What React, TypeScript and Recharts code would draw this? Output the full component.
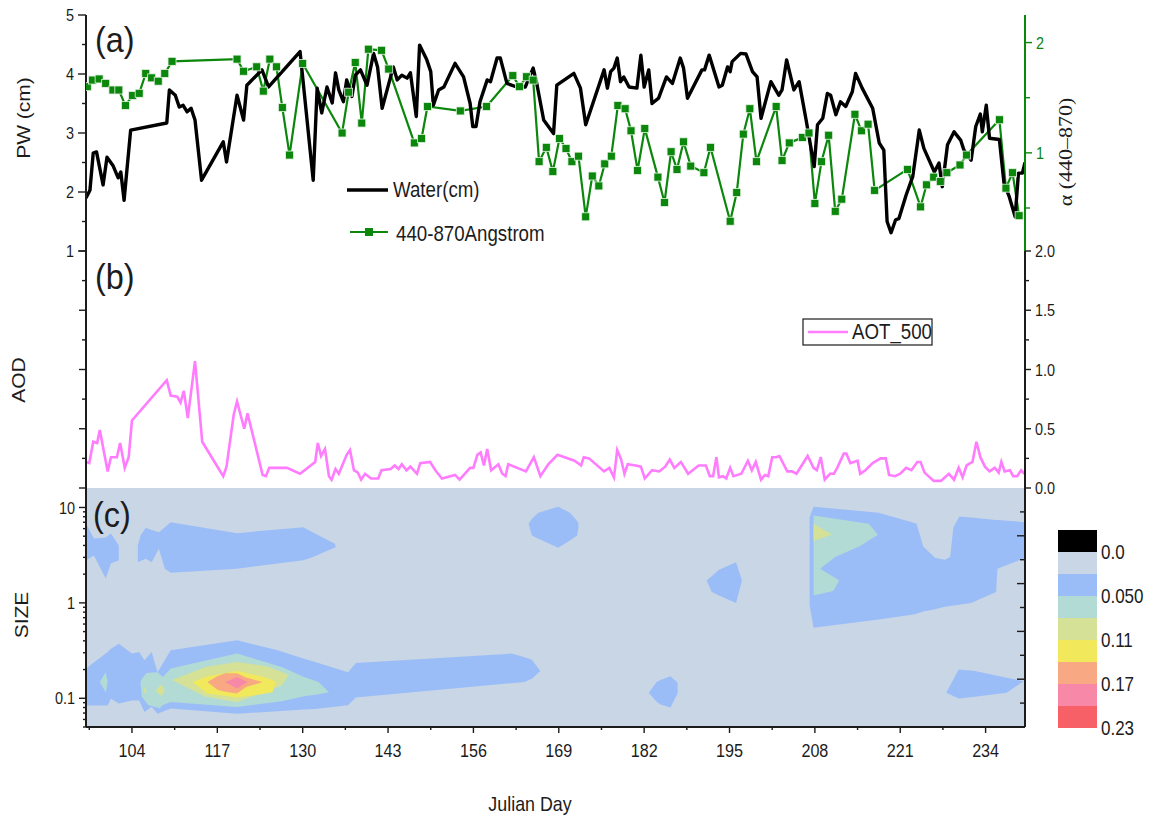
import React from 'react'
import { ComposedChart, Line, Area, XAxis, YAxis, CartesianGrid } from 'recharts'

const FONT = '"Liberation Sans", Arial, Helvetica, sans-serif'
const SERIF = '"Liberation Serif", "Times New Roman", serif'
const SX = 0.85
const INK = '#1c1c1c'
const GREEN = '#0b870b'
const PINK = '#ff7cff'

// axes
const dayDomain: [number, number] = [97, 240]
const dayMajor = [104, 117, 130, 143, 156, 169, 182, 195, 208, 221, 234]
const dayMinor = [97.5, 110.5, 123.5, 136.5, 149.5, 162.5, 175.5, 188.5, 201.5, 214.5, 227.5]
const dayTicks = [...dayMinor, ...dayMajor].sort((a, b) => a - b)
const pwMajor = [1, 2, 3, 4, 5]
const pwTicks = [1, 1.5, 2, 2.5, 3, 3.5, 4, 4.5, 5]
const alphaMajor = [1, 2]
const alphaTicks = [0.5, 1, 1.5, 2]
const aodMajor = [0, 0.5, 1, 1.5, 2]
const aodTicks = [0, 0.25, 0.5, 0.75, 1, 1.25, 1.5, 1.75, 2]
const sizeMajor = [0.1, 1, 10]
const sizeTicks = [0.05, 0.06, 0.07, 0.08, 0.09, 0.1, 0.2, 0.3, 0.4, 0.5, 0.6, 0.7, 0.8, 0.9, 1, 2, 3, 4, 5, 6, 7, 8, 9, 10]
const rightMajor = [2, 4, 6, 8]
const rightTicks = [1, 2, 3, 4, 5, 6, 7, 8, 9]

// (a) precipitable water, cm
const water: [number, number][] = [
  [97.0, 1.9], [97.6, 2.03], [98.1, 2.66], [98.6, 2.68], [99.6, 2.12], [100.2, 2.59], [101.1, 2.45], [101.9, 2.24],
  [102.3, 2.34], [102.8, 1.86], [103.8, 3.05], [109.3, 3.17], [109.7, 3.73], [110.6, 3.64], [111.2, 3.44], [111.8, 3.47],
  [112.4, 3.36], [113.0, 3.42], [113.6, 3.22], [114.6, 2.2], [117.9, 2.85], [118.4, 2.51], [120.0, 3.64], [121.0, 3.22],
  [121.5, 3.81], [123.8, 4.07], [124.8, 3.78], [129.6, 4.38], [131.6, 2.2], [132.2, 3.76], [132.9, 3.34], [133.7, 3.78],
  [134.5, 3.51], [135.0, 4.02], [135.5, 3.73], [136.2, 3.53], [136.7, 3.9], [137.5, 3.62], [138.0, 3.98], [138.8, 4.07],
  [139.8, 3.81], [140.8, 4.35], [141.4, 4.12], [142.1, 3.42], [143.8, 4.12], [144.4, 3.9], [145.1, 3.98], [145.9, 3.93],
  [146.4, 4.02], [147.3, 3.28], [147.8, 4.49], [148.9, 4.24], [149.5, 4.04], [149.9, 3.47], [150.7, 3.73], [151.5, 3.78],
  [153.2, 4.18], [154.5, 3.95], [155.5, 3.5], [155.9, 3.11], [156.4, 3.11], [157.0, 3.53], [158.1, 3.9], [158.6, 3.87],
  [159.6, 4.27], [160.1, 4.27], [161.1, 3.84], [162.6, 3.78], [163.9, 3.78], [165.1, 4.1], [165.7, 3.81], [166.7, 3.22],
  [168.2, 2.99], [168.7, 3.81], [171.3, 4.01], [172.3, 3.76], [173.1, 3.14], [175.9, 4.07], [176.4, 3.76], [176.9, 4.04],
  [177.4, 4.1], [177.9, 4.27], [178.4, 3.87], [178.9, 3.95], [179.7, 3.78], [180.9, 3.76], [181.5, 4.32], [182.0, 3.78],
  [182.7, 4.07], [183.2, 3.5], [184.2, 3.59], [185.4, 3.95], [186.3, 3.84], [187.5, 4.27], [188.0, 4.1], [188.6, 3.59],
  [190.8, 4.07], [191.2, 4.07], [191.9, 4.32], [193.4, 3.78], [193.9, 3.81], [194.7, 4.12], [195.1, 4.04], [195.4, 4.21],
  [196.7, 4.35], [197.5, 4.34], [198.5, 4.04], [199.2, 3.95], [199.8, 3.25], [201.3, 3.87], [202.5, 3.64], [203.0, 3.73],
  [203.7, 4.24], [204.8, 3.73], [205.6, 3.87], [206.7, 3.2], [207.9, 2.43], [208.4, 3.14], [209.2, 3.25], [209.9, 3.67],
  [210.4, 3.64], [211.2, 3.31], [211.9, 3.53], [212.7, 3.45], [213.7, 3.7], [214.2, 4.01], [215.2, 3.76], [216.8, 3.42],
  [217.8, 2.83], [218.5, 2.71], [219.0, 1.5], [219.6, 1.31], [220.3, 1.53], [220.8, 1.55], [221.9, 1.95], [222.9, 2.26],
  [223.9, 3.05], [224.6, 2.74], [226.2, 2.34], [226.9, 2.49], [227.4, 2.09], [228.2, 2.8], [229.2, 3.02], [230.2, 2.88],
  [230.7, 2.71], [231.8, 2.54], [232.5, 3.11], [233.2, 3.32], [233.5, 3.02], [234.1, 3.47], [234.6, 2.91], [236.1, 2.89],
  [236.8, 2.15], [237.6, 1.92], [238.5, 1.58], [239.0, 2.32], [239.6, 2.32], [240.0, 2.5],
]

// (a) Angstrom exponent 440-870
const alpha: [number, number][] = [
  [97.2, 1.6], [98.0, 1.66], [99.0, 1.67], [100.0, 1.63], [101.1, 1.57], [102.0, 1.57], [103.0, 1.43], [104.1, 1.52],
  [105.1, 1.54], [106.1, 1.72], [107.0, 1.68], [108.0, 1.65], [109.0, 1.72], [110.1, 1.83], [120.0, 1.85], [121.0, 1.74],
  [123.0, 1.78], [124.0, 1.56], [125.0, 1.85], [126.0, 1.78], [126.9, 1.41], [128.0, 0.98], [130.0, 1.81], [136.0, 1.18],
  [137.0, 1.55], [138.0, 1.82], [139.0, 1.27], [140.0, 1.94], [142.0, 1.93], [143.1, 1.76], [147.0, 1.09], [148.1, 1.13],
  [149.0, 1.42], [154.0, 1.38], [158.0, 1.42], [162.0, 1.7], [163.0, 1.6], [164.1, 1.69], [165.1, 1.66], [166.0, 0.92],
  [167.1, 1.05], [168.1, 0.83], [169.1, 1.13], [170.1, 1.04], [171.0, 0.92], [172.0, 0.97], [173.1, 0.42], [174.1, 0.79],
  [175.1, 0.7], [176.0, 0.9], [177.0, 0.97], [178.0, 1.43], [179.1, 1.4], [180.0, 1.2], [181.0, 0.84], [182.1, 1.22],
  [184.1, 0.78], [185.1, 0.55], [186.1, 1.01], [187.0, 0.85], [188.0, 1.1], [189.1, 0.88], [191.1, 0.82], [192.1, 1.05],
  [195.1, 0.38], [196.1, 0.64], [197.1, 1.17], [198.1, 1.4], [199.1, 0.92], [202.1, 1.42], [203.0, 0.93], [204.1, 1.09],
  [206.1, 1.14], [207.1, 1.18], [208.0, 0.54], [209.0, 0.92], [210.1, 1.16], [211.1, 0.47], [212.1, 0.58], [214.1, 1.35],
  [215.1, 1.2], [216.1, 1.26], [217.1, 0.66], [222.1, 0.85], [224.1, 0.51], [225.0, 0.71], [226.1, 0.78], [227.1, 0.74],
  [228.1, 0.82], [230.1, 0.89], [231.1, 0.98], [236.1, 1.3], [237.1, 0.68], [238.1, 0.82], [239.1, 0.43],
]

// (b) AOT at 500 nm
const aot500: [number, number][] = [
  [97.0, 0.22], [97.5, 0.21], [98.1, 0.39], [98.7, 0.38], [99.1, 0.49], [100.3, 0.14], [100.8, 0.26], [101.7, 0.26],
  [102.2, 0.38], [102.9, 0.17], [103.5, 0.26], [104.0, 0.57], [109.3, 0.91], [109.9, 0.78], [110.9, 0.77], [111.4, 0.72],
  [111.9, 0.82], [112.5, 0.59], [113.6, 1.07], [114.7, 0.39], [117.9, 0.1], [118.4, 0.18], [119.5, 0.62], [120.0, 0.73],
  [121.1, 0.5], [121.6, 0.63], [123.9, 0.11], [124.4, 0.1], [124.9, 0.17], [127.6, 0.17], [129.6, 0.12], [131.9, 0.22],
  [132.3, 0.38], [132.8, 0.27], [133.4, 0.33], [134.0, 0.1], [134.4, 0.07], [135.0, 0.16], [135.5, 0.12], [136.7, 0.28],
  [137.2, 0.32], [137.8, 0.15], [138.4, 0.13], [138.9, 0.07], [139.5, 0.12], [140.4, 0.08], [141.5, 0.08], [142.0, 0.15],
  [143.4, 0.16], [144.0, 0.19], [144.6, 0.16], [145.1, 0.2], [145.8, 0.15], [146.4, 0.18], [147.4, 0.12], [147.9, 0.21],
  [149.4, 0.22], [150.2, 0.15], [151.2, 0.08], [153.2, 0.11], [153.9, 0.07], [155.5, 0.17], [156.0, 0.17], [156.6, 0.28],
  [157.1, 0.3], [157.6, 0.19], [158.1, 0.33], [158.7, 0.15], [159.8, 0.2], [160.4, 0.12], [160.9, 0.1], [161.3, 0.2],
  [164.0, 0.14], [165.2, 0.26], [166.2, 0.1], [167.4, 0.2], [168.8, 0.28], [171.4, 0.23], [172.4, 0.19], [172.8, 0.26],
  [173.6, 0.25], [175.9, 0.14], [176.7, 0.17], [177.4, 0.09], [177.9, 0.32], [178.5, 0.24], [179.0, 0.12], [179.5, 0.2],
  [180.7, 0.19], [181.5, 0.18], [182.1, 0.08], [183.2, 0.15], [184.3, 0.14], [185.2, 0.18], [185.9, 0.24], [186.6, 0.17],
  [187.6, 0.22], [188.7, 0.12], [190.3, 0.19], [191.4, 0.19], [192.0, 0.1], [192.5, 0.1], [193.0, 0.26], [193.4, 0.09],
  [194.0, 0.1], [194.5, 0.08], [195.1, 0.17], [195.6, 0.1], [196.8, 0.12], [197.8, 0.23], [198.4, 0.15], [199.0, 0.22],
  [199.8, 0.07], [200.4, 0.11], [200.9, 0.1], [201.5, 0.26], [202.1, 0.26], [202.6, 0.27], [203.8, 0.14], [204.5, 0.14],
  [205.2, 0.12], [206.9, 0.27], [207.8, 0.17], [208.3, 0.15], [208.9, 0.26], [209.5, 0.07], [210.3, 0.12], [210.9, 0.12],
  [211.4, 0.17], [212.4, 0.29], [212.8, 0.29], [213.4, 0.21], [214.5, 0.23], [214.9, 0.12], [215.7, 0.15], [216.8, 0.21],
  [218.0, 0.25], [218.8, 0.25], [219.3, 0.11], [220.2, 0.1], [221.0, 0.12], [221.9, 0.17], [222.7, 0.15], [223.6, 0.22],
  [224.1, 0.22], [224.7, 0.13], [226.1, 0.06], [227.2, 0.06], [228.4, 0.12], [229.2, 0.07], [229.9, 0.17], [230.5, 0.09],
  [231.1, 0.19], [232.0, 0.22], [232.6, 0.39], [233.2, 0.26], [233.9, 0.18], [234.6, 0.14], [235.4, 0.17], [236.0, 0.13],
  [236.4, 0.22], [236.9, 0.14], [237.7, 0.15], [238.2, 0.1], [238.8, 0.1], [239.4, 0.15], [239.9, 0.12],
]

// (c) contour bands: [day, low size, high size]
const blueUpperLeft = [[97, 2.79, 6.8], [98.2, 3.14, 4.73], [100, 1.8, 4.85], [100.8, 2.59, 5.35], [102, 2.79, 4.0]]
const blueUpperBand = [
  [104.9, 2.67, 4.0], [105.3, 2.75, 5.09], [106.1, 2.9, 6.12], [107.0, 2.67, 5.8], [108.1, 3.69, 5.51], [109.0, 2.28, 6.2],
  [109.9, 2.07, 7.02], [120, 2.28, 5.38], [130.1, 2.79, 6.22], [131.3, 2.97, 5.6], [134.9, 3.8, 4.17], [135.0, 3.84, 3.9],
]
const blueDay169 = [[164.4, 6.75, 6.75], [164.9, 5.09, 7.6], [165.9, 4.7, 8.8], [168.9, 3.78, 10.2], [170.7, 4.5, 8.8], [171.8, 5.09, 7.2], [172.0, 6.2, 6.75]]
const blueDay208 = [
  [207.2, 0.95, 7.9], [207.8, 0.55, 10.2], [217.7, 0.67, 8.8], [222.8, 0.75, 7.0], [223.5, 0.77, 6.75], [224.5, 0.81, 3.91],
  [226.3, 0.86, 2.97], [227.8, 0.91, 2.83], [228.6, 0.93, 3.02], [229.1, 0.94, 6.22], [230.0, 0.955, 8.05], [231.8, 0.995, 7.86],
  [235.6, 1.3, 7.4], [235.8, 2.28, 7.4], [240, 2.95, 7.02],
]
const blueDay195 = [[191.5, 1.72, 1.72], [192.3, 1.3, 1.9], [193.4, 1.195, 2.23], [196.0, 0.995, 2.67], [196.9, 1.72, 1.72]]
const blueDay184 = [[182.7, 0.114, 0.114], [183.9, 0.092, 0.148], [184.5, 0.086, 0.155], [186.0, 0.08, 0.17], [187.0, 0.109, 0.148], [187.1, 0.114, 0.145]]
const blueDay233 = [[228.0, 0.114, 0.114], [229.9, 0.0995, 0.2], [232.4, 0.104, 0.193], [237.2, 0.114, 0.164], [239.8, 0.151, 0.151]]
const blueFineBand = [
  [97, 0.084, 0.205], [100.3, 0.084, 0.305], [100.8, 0.099, 0.33], [102, 0.088, 0.374], [104, 0.095, 0.294], [105.1, 0.095, 0.305],
  [105.9, 0.072, 0.25], [107.0, 0.081, 0.305], [107.9, 0.069, 0.188], [109.9, 0.078, 0.318], [120, 0.069, 0.405], [126.2, 0.073, 0.318],
  [130.2, 0.0762, 0.26], [131.9, 0.077, 0.24], [136.9, 0.0845, 0.188], [138.1, 0.102, 0.234], [161.8, 0.144, 0.294],
  [163.8, 0.148, 0.27], [164.9, 0.16, 0.254], [166.2, 0.193, 0.193],
]
const tealFineBand = [
  [105.3, 0.148, 0.148], [105.5, 0.1035, 0.16], [106.2, 0.09, 0.183], [106.5, 0.0845, 0.185], [107.9, 0.08, 0.188], [108.2, 0.078, 0.18],
  [108.7, 0.085, 0.167], [109.9, 0.0914, 0.205], [120, 0.081, 0.294], [126.8, 0.093, 0.213], [130.2, 0.105, 0.167], [132.4, 0.11, 0.148],
  [134.0, 0.116, 0.116],
]
const tealSliver = [[99.1, 0.148, 0.148], [100.0, 0.116, 0.188], [100.3, 0.148, 0.148]]
const tealDay208Upper = [[207.8, 2.28, 8.24], [208.8, 2.28, 8.05], [211.1, 3.02, 7.6], [214.9, 3.94, 6.95], [216.2, 4.5, 6.75], [217.6, 5.18, 5.18]]
const tealDay208Lower = [[207.8, 1.2, 2.28], [208.8, 1.24, 2.28], [210.8, 1.33, 1.88], [211.7, 1.72, 1.72]]
const oliveFineBand = [[110.1, 0.155, 0.155], [115.2, 0.1035, 0.213], [120, 0.0914, 0.24], [124.5, 0.118, 0.216], [126.8, 0.136, 0.19], [127.9, 0.175, 0.175]]
const oliveBitA = [[105.8, 0.12, 0.12], [106.0, 0.11, 0.135], [106.2, 0.12, 0.12]]
const oliveBitB = [[107.6, 0.12, 0.12], [108.5, 0.105, 0.14], [109.0, 0.12, 0.12]]
const oliveDay208 = [[207.8, 4.44, 6.75], [210.6, 5.21, 5.21]]
const yellowFineBand = [[113.2, 0.148, 0.148], [115.5, 0.112, 0.17], [120, 0.102, 0.193], [123.7, 0.11, 0.17], [125.4, 0.116, 0.155], [125.9, 0.148, 0.148]]
const orangeFineBand = [[115.5, 0.148, 0.148], [117.0, 0.123, 0.17], [118.2, 0.117, 0.183], [120, 0.112, 0.183], [121.4, 0.131, 0.165], [123.9, 0.148, 0.148]]
const pinkFineBand = [[118.2, 0.148, 0.148], [120, 0.127, 0.167], [121.6, 0.148, 0.148]]

const levelColors = ['#000000', '#c9d6e6', '#9bbdf7', '#b2dbd5', '#d4e196', '#f1e85c', '#f8a882', '#f888a8', '#f86068']
const levelLabels = ['0.0', '0.050', '0.11', '0.17', '0.23']

const contourLayers = [
  { level: 2, bands: [blueUpperLeft, blueUpperBand, blueDay169, blueDay208, blueDay195, blueDay184, blueDay233, blueFineBand] },
  { level: 3, bands: [tealFineBand, tealSliver, tealDay208Upper, tealDay208Lower] },
  { level: 4, bands: [oliveFineBand, oliveBitA, oliveBitB, oliveDay208] },
  { level: 5, bands: [yellowFineBand] },
  { level: 6, bands: [orangeFineBand] },
  { level: 7, bands: [pinkFineBand] },
]

const toXY = (a: [number, number][]) => a.map(([d, v]) => ({ d, v }))
const toRange = (a: number[][]) => a.map(([d, lo, hi]) => ({ d, r: [lo, hi] }))

type TickOpts = {
  side: 'left' | 'right' | 'top' | 'bottom'
  majors: number[]
  inward?: boolean
  labels?: boolean
  len?: number
  minorLen?: number
  color?: string
  fontSize?: number
  fmt?: (v: number) => string
}

function makeTick(o: TickOpts) {
  return (p: any) => {
    const x = Number(p.x)
    const y = Number(p.y)
    const v = Number(p.payload?.value)
    const major = o.majors.some((m) => Math.abs(m - v) < 1e-6)
    const l = major ? (o.len ?? 7) : (o.minorLen ?? 4)
    const d = o.inward ? -1 : 1
    const out = o.inward ? 0 : l
    const fs = o.fontSize ?? 17
    const color = o.color ?? INK
    let x2 = x, y2 = y, tx = x, ty = y
    let anchor: 'start' | 'middle' | 'end' = 'middle'
    if (o.side === 'left') { x2 = x - d * l; tx = x - out - 4; ty = y + fs * 0.36; anchor = 'end' }
    else if (o.side === 'right') { x2 = x + d * l; tx = x + out + 4; ty = y + fs * 0.36; anchor = 'start' }
    else if (o.side === 'top') { y2 = y - d * l; ty = y - out - 4 }
    else { y2 = y + d * l; ty = y + out + 10 + fs * 0.72 }
    return (
      <g key={`t-${o.side}-${v}`}>
        <line x1={x} y1={y} x2={x2} y2={y2} stroke={color} strokeWidth={1.4} />
        {o.labels !== false && major && (
          <text transform={`translate(${tx},${ty}) scale(${SX},1)`} textAnchor={anchor} fontSize={fs} fontFamily={FONT} fill={color}>
            {o.fmt ? o.fmt(v) : String(v)}
          </text>
        )}
      </g>
    )
  }
}

function SText({ x, y, size, children, anchor = 'start', rotate = 0, family = FONT, fill = INK, sx = SX }: any) {
  return (
    <text
      transform={`translate(${x},${y}) scale(${sx},1)${rotate ? ` rotate(${rotate})` : ''}`}
      textAnchor={anchor}
      fontSize={size}
      fontFamily={family}
      fill={fill}
    >
      {children}
    </text>
  )
}

const frame = { stroke: INK, strokeWidth: 2 }

const squareDot = (p: any) => (
  <rect key={`sq-${p.index}`} x={p.cx - 4} y={p.cy - 4} width={8} height={8} fill={GREEN} stroke="#e8f3e8" strokeWidth={0.8} />
)

export default function App() {
  return (
    <div style={{ position: 'absolute', left: 0, top: 0, width: 1150, height: 821, background: '#fff', overflow: 'hidden' }}>
      {/* (a) */}
      <div style={{ position: 'absolute', left: 0, top: 0 }}>
        <ComposedChart width={1150} height={262} margin={{ top: 15, right: 85, bottom: 11, left: 46 }}>
          <XAxis
            xAxisId="x" type="number" dataKey="d" domain={dayDomain} allowDataOverflow orientation="top" height={0}
            ticks={dayTicks} interval={0} tickSize={0} tickMargin={0} tickLine={false} axisLine={frame}
            tick={makeTick({ side: 'top', majors: dayMajor, inward: true, labels: false, len: 8, minorLen: 5 })}
          />
          <YAxis
            yAxisId="pw" orientation="left" width={40} type="number" domain={[1, 5]} allowDataOverflow
            ticks={pwTicks} interval={0} tickSize={0} tickMargin={0} tickLine={false} axisLine={frame}
            tick={makeTick({ side: 'left', majors: pwMajor, len: 8, minorLen: 4 })}
          />
          <YAxis
            yAxisId="al" orientation="right" width={40} type="number" domain={[0.11, 2.25]} allowDataOverflow
            ticks={alphaTicks} interval={0} tickSize={0} tickMargin={0} tickLine={false}
            axisLine={{ stroke: GREEN, strokeWidth: 2 }}
            tick={makeTick({ side: 'right', majors: alphaMajor, len: 7, minorLen: 5, color: GREEN })}
          />
          <Line
            xAxisId="x" yAxisId="al" data={toXY(alpha)} dataKey="v" type="linear" stroke={GREEN} strokeWidth={2.2}
            dot={squareDot} activeDot={false} isAnimationActive={false}
          />
          <Line
            xAxisId="x" yAxisId="pw" data={toXY(water)} dataKey="v" type="linear" stroke="#000" strokeWidth={3.4}
            strokeLinejoin="round" dot={false} activeDot={false} isAnimationActive={false}
          />
        </ComposedChart>
      </div>

      {/* (b) */}
      <div style={{ position: 'absolute', left: 0, top: 240 }}>
        <ComposedChart width={1150} height={260} margin={{ top: 11, right: 85, bottom: 12, left: 46 }}>
          <XAxis
            xAxisId="x" type="number" dataKey="d" domain={dayDomain} allowDataOverflow orientation="top" height={0}
            ticks={dayTicks} interval={0} tickSize={0} tickMargin={0} tickLine={false} axisLine={frame}
            tick={makeTick({ side: 'top', majors: dayMajor, inward: true, labels: false, len: 9, minorLen: 6 })}
          />
          <YAxis
            yAxisId="l" orientation="left" width={40} type="number" domain={[0, 2]} allowDataOverflow
            ticks={aodTicks} interval={0} tickSize={0} tickMargin={0} tickLine={false} axisLine={frame}
            tick={makeTick({ side: 'left', majors: aodMajor, labels: false, len: 7, minorLen: 4 })}
          />
          <YAxis
            yAxisId="r" orientation="right" width={40} type="number" domain={[0, 2]} allowDataOverflow
            ticks={aodTicks} interval={0} tickSize={0} tickMargin={0} tickLine={false} axisLine={frame}
            tick={makeTick({ side: 'right', majors: aodMajor, len: 6, minorLen: 4, fmt: (v) => v.toFixed(1) })}
          />
          <Line
            xAxisId="x" yAxisId="l" data={toXY(aot500)} dataKey="v" type="linear" stroke={PINK} strokeWidth={2.6}
            dot={false} activeDot={false} isAnimationActive={false}
          />
        </ComposedChart>
      </div>

      {/* (c) */}
      <div style={{ position: 'absolute', left: 0, top: 478 }}>
        <ComposedChart width={1150} height={320} margin={{ top: 10, right: 85, bottom: 31, left: 46 }}>
          <CartesianGrid horizontal={false} vertical={false} fill={levelColors[1]} fillOpacity={1} xAxisId="b" yAxisId="s" />
          <XAxis
            xAxisId="t" type="number" domain={dayDomain} allowDataOverflow orientation="top" height={0}
            ticks={dayTicks} interval={0} tickSize={0} tickMargin={0} tickLine={false} axisLine={{ stroke: INK, strokeWidth: 3 }}
            tick={makeTick({ side: 'top', majors: dayMajor, inward: true, labels: false, len: 7, minorLen: 5 })}
          />
          <XAxis
            xAxisId="b" type="number" dataKey="d" domain={dayDomain} allowDataOverflow orientation="bottom" height={40}
            ticks={dayTicks} interval={0} tickSize={0} tickMargin={0} tickLine={false} axisLine={frame}
            tick={makeTick({ side: 'bottom', majors: dayMajor, len: 6, minorLen: 3, fontSize: 19 })}
          />
          <YAxis
            yAxisId="s" orientation="left" width={40} type="number" scale="log" domain={[0.05, 16]} allowDataOverflow
            ticks={sizeTicks} interval={0} tickSize={0} tickMargin={0} tickLine={false} axisLine={frame}
            tick={makeTick({ side: 'left', majors: sizeMajor, len: 7, minorLen: 3 })}
          />
          <YAxis
            yAxisId="r" orientation="right" width={40} type="number" domain={[0, 10]} allowDataOverflow
            ticks={rightTicks} interval={0} tickSize={0} tickMargin={0} tickLine={false} axisLine={frame}
            tick={makeTick({ side: 'right', majors: rightMajor, inward: true, labels: false, len: 8, minorLen: 5 })}
          />
          {contourLayers.flatMap((layer) =>
            layer.bands.map((band, i) => (
              <Area
                key={`c-${layer.level}-${i}`}
                xAxisId="b" yAxisId="s" data={toRange(band)} dataKey="r" type="linear"
                stroke="none" fill={levelColors[layer.level]} fillOpacity={1}
                dot={false} activeDot={false} isAnimationActive={false}
              />
            ))
          )}
        </ComposedChart>
      </div>

      {/* titles, legends, colour scale */}
      <svg width={1150} height={821} style={{ position: 'absolute', left: 0, top: 0, pointerEvents: 'none' }}>
        <SText x={95} y={52} size={36} sx={0.9}>(a)</SText>
        <SText x={95} y={289} size={36} sx={0.9}>(b)</SText>
        <SText x={93} y={527} size={36} sx={0.9}>(c)</SText>

        <SText x={30} y={118} size={21} anchor="middle" rotate={-90}>PW (cm)</SText>
        <SText x={25} y={380} size={21} anchor="middle" rotate={-90}>AOD</SText>
        <SText x={28} y={615} size={21} anchor="middle" rotate={-90}>SIZE</SText>
        <SText x={1072} y={152} size={22} anchor="middle" rotate={-90} family={SERIF}>α (440–870)</SText>
        <SText x={530} y={811} size={21} anchor="middle">Julian Day</SText>

        <line x1={347} y1={190} x2={388} y2={190} stroke="#000" strokeWidth={3.5} />
        <SText x={393} y={197} size={22}>Water(cm)</SText>
        <line x1={350} y1={232} x2={388} y2={232} stroke={GREEN} strokeWidth={2.2} />
        <rect x={365} y={228} width={8} height={8} fill={GREEN} />
        <SText x={396} y={241} size={22}>440-870Angstrom</SText>

        <rect x={803} y={319} width={129} height={26} fill="#fff" stroke={INK} strokeWidth={1.2} />
        <line x1={808} y1={332} x2={848} y2={332} stroke={PINK} strokeWidth={2.6} />
        <SText x={852} y={339} size={22}>AOT_500</SText>

        {levelColors.map((c, i) => (
          <rect key={c} x={1058} y={530 + i * 22} width={39} height={22} fill={c} />
        ))}
        {levelLabels.map((t, i) => (
          <SText key={t} x={1101} y={552 + i * 44 + 7} size={20}>{t}</SText>
        ))}
      </svg>
    </div>
  )
}
